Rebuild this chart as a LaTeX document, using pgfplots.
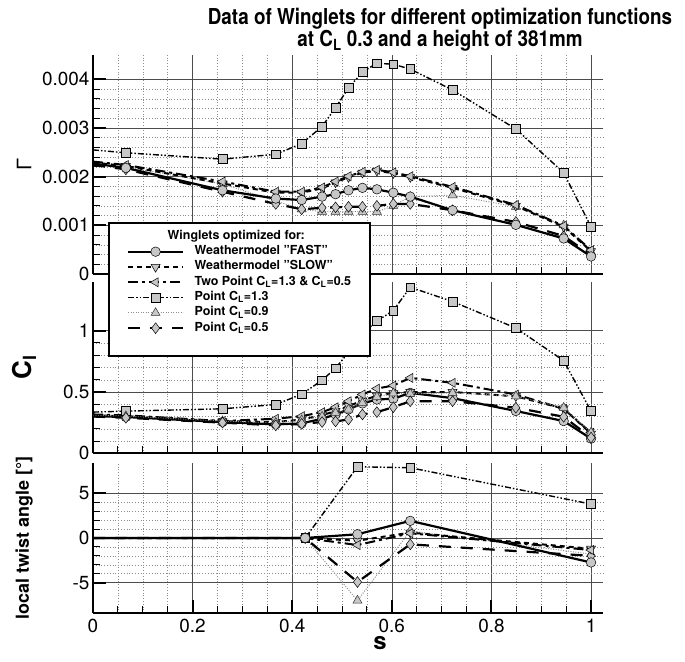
\documentclass[border=0pt]{standalone}
\usepackage{fontspec}
\setmainfont{TeX Gyre Heros}
\usepackage{pgfplots}
\usepackage{pgfplotstable}
\pgfplotsset{compat=1.18}
\definecolor{mk}{gray}{0.78}
\tikzset{mko/.style={solid, fill=mk, draw=black, line width=0.5bp}}

\pgfplotstableread{
s      fast     slow     two      c13      c09      c05
0      0.00227  0.00229  0.00231  0.00255  0.00226  0.00224
0.066  0.00218  0.00222  0.00224  0.00249  0.00220  0.00215
0.26   0.00172  0.00186  0.00190  0.00236  0.00185  0.00169
0.367  0.00155  0.00167  0.00169  0.00246  0.00150  0.00144
0.419  0.00152  0.00167  0.00169  0.00268  0.00133  0.00133
0.46   0.00159  0.00176  0.00178  0.00303  0.00128  0.00136
0.487  0.00164  0.00188  0.00190  0.00342  0.00128  0.00137
0.513  0.00172  0.00199  0.00201  0.00382  0.00128  0.00138
0.541  0.00177  0.00208  0.00210  0.00415  0.00128  0.00138
0.57   0.00174  0.00212  0.00214  0.00433  0.00128  0.00140
0.603  0.00167  0.00207  0.00209  0.00431  0.00140  0.00144
0.637  0.00159  0.00199  0.00201  0.00421  0.00159  0.00144
0.722  0.00131  0.00177  0.00179  0.00378  0.00162  0.00131
0.849  0.00101  0.00140  0.00142  0.00298  0.00138  0.00107
0.945  0.00073  0.00097  0.00099  0.00208  0.00100  0.00078
1.0    0.00036  0.00047  0.00049  0.00097  0.00045  0.00039
}\gammadata

\pgfplotstableread{
s      fast   slow   two    c13    c09    c05
0      0.303  0.310  0.317  0.336  0.310  0.300
0.066  0.296  0.303  0.310  0.344  0.303  0.290
0.26   0.255  0.262  0.263  0.363  0.262  0.250
0.367  0.236  0.255  0.282  0.398  0.250  0.228
0.419  0.244  0.275  0.303  0.482  0.270  0.240
0.46   0.282  0.310  0.336  0.596  0.300  0.255
0.487  0.317  0.345  0.376  0.694  0.330  0.260
0.513  0.358  0.385  0.425  0.824  0.358  0.276
0.541  0.407  0.430  0.480  0.976  0.410  0.317
0.57   0.439  0.470  0.528  1.079  0.460  0.336
0.603  0.445  0.490  0.553  1.165  0.490  0.376
0.637  0.493  0.500  0.615  1.355  0.485  0.425
0.722  0.450  0.500  0.575  1.238  0.493  0.425
0.849  0.345  0.465  0.480  1.022  0.466  0.372
0.945  0.263  0.365  0.363  0.756  0.372  0.298
1.0    0.120  0.160  0.168  0.344  0.170  0.128
}\cldata

\pgfplotstableread{
s      fast   slow   two    c13    c09    c05
0      0      0      0      0      0      0
0.426  0      0      0      0      0      0
0.531  0.42   -0.30  -0.79  7.98   -7.00  -4.93
0.637  1.92   0.60   0.53   7.87   0.79   -0.71
1.0    -2.74  -1.20  -1.35  3.80   -1.80  -2.00
}\twistdata

\pgfplotsset{
  wing/.style={
    scale only axis, width=510bp, xmin=0, xmax=1.024,
    axis x line=bottom, axis y line=left,
    axis line style={line width=2bp,-},
    every outer x axis line/.append style={-},
    every outer y axis line/.append style={-},
    tick align=inside,
    major tick length=13bp, minor tick length=7bp,
    every major tick/.append style={line width=2bp,black},
    every minor tick/.append style={line width=1bp,black},
    xtick={0,0.2,0.4,0.6,0.8,1},
    minor x tick num=3,
    xmajorgrids, xminorgrids, ymajorgrids, yminorgrids,
    major grid style={line width=0.6bp, black!70},
    minor grid style={line width=0.5bp, black!45, dash pattern=on 0.8bp off 2bp},
    tick label style={font=\fontsize{19}{22}\selectfont},
    /pgf/number format/assume math mode=true,
    scaled y ticks=false,
    every axis y label/.style={at={(axis description cs:-0.135,0.5)}, rotate=90, anchor=center},
  },
  fast/.style={black, line width=2.2bp, mark=*, mark size=4.8bp, mark options={mko}, mark phase=2, mark repeat=1},
  slow/.style={black, line width=2bp, dash pattern=on 5bp off 4bp, mark=triangle*, mark size=5.2bp, mark options={mko, rotate=180}, mark phase=2, mark repeat=1},
  two/.style={black, line width=2bp, dash pattern=on 10bp off 4bp on 3bp off 4bp, mark=triangle*, mark size=5.2bp, mark options={mko, rotate=90}, mark phase=2, mark repeat=1},
  cA/.style={black, line width=1.4bp, dash pattern=on 6bp off 2bp on 1.5bp off 2bp on 1.5bp off 2bp, mark=square*, mark size=4.4bp, mark options={mko}, mark phase=2, mark repeat=1},
  cB/.style={black!45, line width=1bp, dash pattern=on 1bp off 1.5bp, mark=triangle*, mark size=5.2bp, mark options={mko, draw=black!80}, mark phase=2, mark repeat=1},
  cC/.style={black, line width=2.2bp, dash pattern=on 12bp off 10bp, mark=diamond*, mark size=5.4bp, mark options={mko}, mark phase=2, mark repeat=1},
}

\begin{document}
\begin{tikzpicture}
\path[use as bounding box] (0,0) rectangle (685bp,662bp);

% ---------------- top panel: Gamma ----------------
\begin{axis}[wing,
  at={(93bp,388bp)}, anchor=south west, height=219bp,
  ymin=0, ymax=0.0045,
  ytick={0,0.001,0.002,0.003,0.004},
  yticklabels={0,0.001,0.002,0.003,0.004},
  minor y tick num=4,
  xmajorticks=false, xminorticks=false,
  ylabel={Γ}, ylabel style={font=\fontsize{20}{22}\selectfont},
]
\addplot[cB]   table[x=s,y=c09]  {\gammadata};
\addplot[cC]   table[x=s,y=c05]  {\gammadata};
\addplot[slow] table[x=s,y=slow] {\gammadata};
\addplot[two]  table[x=s,y=two]  {\gammadata};
\addplot[cA]   table[x=s,y=c13]  {\gammadata};
\addplot[fast] table[x=s,y=fast] {\gammadata};
\end{axis}

% ---------------- middle panel: Cl ----------------
\begin{axis}[wing,
  at={(93bp,208.7bp)}, anchor=south west, height=171.6bp,
  ymin=0, ymax=1.4,
  ytick={0,0.5,1}, yticklabels={0,0.5,1},
  minor y tick num=4,
  xmajorticks=false, xminorticks=false,
  ylabel={C\textsubscript{l}}, ylabel style={font=\bfseries\fontsize{26}{28}\selectfont},
  legend image code/.code={\draw[#1, mark repeat=2, mark phase=2] plot coordinates {(0bp,0bp) (27.5bp,0bp) (55bp,0bp)};},
  legend style={at={(0.0294,1.345)}, anchor=north west, draw=black, line width=2bp, fill=white,
    font=\bfseries\fontsize{12.5}{14}\selectfont, inner xsep=18bp, inner ysep=6bp,
    column sep=10bp, row sep=1.5bp, cells={anchor=west},
    nodes={inner sep=0.5bp, text height=9.3bp, text depth=3.5bp}},
]
\addlegendimage{empty legend}
\addlegendentry{\hspace*{-27bp}Winglets optimized for:}
\addplot[fast] table[x=s,y=fast] {\cldata};
\addlegendentry{Weathermodel "FAST"}
\addplot[slow] table[x=s,y=slow] {\cldata};
\addlegendentry{Weathermodel "SLOW"}
\addplot[two]  table[x=s,y=two]  {\cldata};
\addlegendentry{Two Point C\textsubscript{L}=1.3 \& C\textsubscript{L}=0.5}
\addplot[cA]   table[x=s,y=c13]  {\cldata};
\addlegendentry{Point C\textsubscript{L}=1.3}
\addplot[cB]   table[x=s,y=c09]  {\cldata};
\addlegendentry{Point C\textsubscript{L}=0.9}
\addplot[cC]   table[x=s,y=c05]  {\cldata};
\addlegendentry{Point C\textsubscript{L}=0.5}
\addlegendimage{empty legend}
\addlegendentry{}
\end{axis}

% ---------------- bottom panel: twist ----------------
\begin{axis}[wing,
  at={(93bp,49bp)}, anchor=south west, height=150bp,
  ymin=-8.4, ymax=8.4,
  ytick={-5,0,5}, yticklabels={-5,0,5},
  minor y tick num=4,
  xticklabels={0,0.2,0.4,0.6,0.8,1},
  xticklabel style={yshift=-3bp},
  ylabel={local twist angle [°]}, ylabel style={font=\bfseries\fontsize{18}{20}\selectfont},
]
\addplot[cB]   table[x=s,y=c09]  {\twistdata};
\addplot[cC]   table[x=s,y=c05]  {\twistdata};
\addplot[slow] table[x=s,y=slow] {\twistdata};
\addplot[two]  table[x=s,y=two]  {\twistdata};
\addplot[cA]   table[x=s,y=c13]  {\twistdata};
\addplot[fast] table[x=s,y=fast] {\twistdata};
\end{axis}

\node[font=\bfseries\fontsize{22}{22}\selectfont, align=center, inner sep=0pt] at (440bp,632bp)
  {\scalebox{0.86}[1]{Data of Winglets for different optimization functions}\\\scalebox{0.86}[1]{at C\textsubscript{L} 0.3 and a height of 381mm}};
\node[font=\bfseries\fontsize{24}{28}\selectfont] at (380bp,19bp) {s};
\end{tikzpicture}
\end{document}
